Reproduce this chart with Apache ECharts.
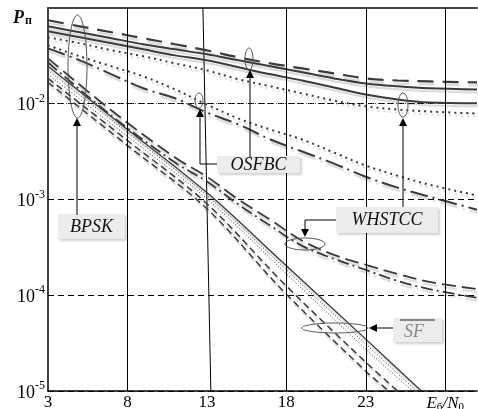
<!DOCTYPE html>
<html><head><meta charset="utf-8">
<script src="https://cdn.jsdelivr.net/npm/echarts@6/dist/echarts.min.js"></script>
<style>html,body{margin:0;padding:0;background:#fff}#c{width:478px;height:409px}</style>
</head><body><div id="c"></div>
<script>
// ---- data ----
const xTicks = [3, 8, 13, 18, 23];
const yTicks = [1e-5, 1e-4, 1e-3, 1e-2];
const gridX = [8, 18, 23, 28];
const refLevel = 1.38e-2;

const xA = [3, 5, 7, 9, 11, 13, 15, 17, 19, 21, 23, 25, 27, 30];
const osfbcDash  = [7.45e-2, 6.44e-2, 5.58e-2, 4.83e-2, 4.18e-2, 3.61e-2, 3.05e-2, 2.64e-2, 2.34e-2, 2.08e-2, 1.84e-2, 1.75e-2, 1.71e-2, 1.67e-2];
const osfbcSolid1 = [6.44e-2, 5.58e-2, 4.83e-2, 4.18e-2, 3.70e-2, 3.28e-2, 2.84e-2, 2.46e-2, 2.13e-2, 1.84e-2, 1.63e-2, 1.52e-2, 1.45e-2, 1.41e-2];
const osfbcSolid2 = [5.71e-2, 4.94e-2, 4.28e-2, 3.70e-2, 3.20e-2, 2.84e-2, 2.40e-2, 2.03e-2, 1.75e-2, 1.48e-2, 1.25e-2, 1.11e-2, 1.03e-2, 1.01e-2];
const osfbcDot1 = [4.94e-2, 4.28e-2, 3.61e-2, 3.13e-2, 2.64e-2, 2.23e-2, 1.80e-2, 1.52e-2, 1.28e-2, 1.08e-2, 9.4e-3, 8.7e-3, 8.3e-3, 7.9e-3];
const osfbcDot2 = [4.08e-2, 3.13e-2, 2.46e-2, 1.93e-2, 1.41e-2, 9.8e-3, 7.0e-3, 5.38e-3, 4.23e-3, 3.09e-3, 2.26e-3, 1.77e-3, 1.43e-3, 1.10e-3];
const osfbcDashDot = [3.79e-2, 2.84e-2, 2.03e-2, 1.45e-2, 1.14e-2, 8.1e-3, 6.07e-3, 4.23e-3, 3.17e-3, 2.37e-3, 1.73e-3, 1.33e-3, 1.07e-3, 7.82e-4];

const xW = [3, 7, 11, 13, 15, 17, 19, 21, 23, 25, 27, 30];
const whstccDash = [2.98e-2, 8.5e-3, 2.74e-3, 1.73e-3, 9.95e-4, 6.14e-4, 3.71e-4, 2.64e-4, 2.08e-4, 1.67e-4, 1.38e-4, 1.16e-4];
const whstccDashDot = [2.70e-2, 7.5e-3, 2.43e-3, 1.54e-3, 8.83e-4, 5.32e-4, 3.28e-4, 2.40e-4, 1.84e-4, 1.41e-4, 1.16e-4, 9.4e-5];

const xSF0 = [3, 8, 13, 17.8, 23, 26.5];
const sfSolid = [2.46e-2, 5.38e-3, 1.18e-3, 2.18e-4, 3.48e-5, 1e-5];
const xSF1 = [3, 8, 13, 17.8, 23, 26.2];
const sfDot1 = [2.23e-2, 5.0e-3, 1.10e-3, 1.98e-4, 3.09e-5, 1e-5];
const xSF2 = [3, 8, 13, 17.8, 23, 25.95];
const sfDot2 = [2.03e-2, 4.55e-3, 1.02e-3, 1.80e-4, 2.74e-5, 1e-5];
const xSF3 = [3, 8, 13, 17.8, 23, 25.0];
const sfDash1 = [1.84e-2, 4.13e-3, 9.04e-4, 1.35e-4, 2.0e-5, 1e-5];
const xSF4 = [3, 8, 13, 17.8, 23, 24.45];
const sfDash2 = [1.67e-2, 3.66e-3, 8.0e-4, 1.11e-4, 1.61e-5, 1e-5];

const slantX = [12.75, 13.25];
const slantY = [1e-1, 1e-5];

// ---- chart ----
const serif = 'Liberation Serif';
const ink = '#3a3a3a';
const pair = (xs, ys) => xs.map((x, i) => [x, ys[i]]);

function curve(name, xs, ys, type, width, smooth) {
  return {
    name, type: 'line', data: pair(xs, ys), showSymbol: false, symbol: 'none',
    smooth: smooth ? 0.35 : false, silent: true, z: 3,
    lineStyle: { color: ink, width, type, cap: 'butt',
      shadowColor: 'rgba(0,0,0,0.16)', shadowBlur: 1, shadowOffsetX: 1, shadowOffsetY: 3 }
  };
}

const series = [
  {
    name: 'slant13', type: 'line', data: pair(slantX, slantY), showSymbol: false, symbol: 'none', silent: true, z: 2,
    lineStyle: { color: '#000', width: 1 },
    markLine: {
      silent: true, symbol: ['none', 'none'], label: { show: false },
      data: gridX.map(v => ({ xAxis: v, lineStyle: { color: '#000', width: 1, type: 'solid' } }))
        .concat([{ yAxis: refLevel, lineStyle: { color: '#444', width: 1, type: [1, 2] } }])
    }
  },
  curve('osfbcDash', xA, osfbcDash, [16, 9], 2.2, true),
  curve('osfbcSolid1', xA, osfbcSolid1, 'solid', 2, true),
  curve('osfbcSolid2', xA, osfbcSolid2, 'solid', 2, true),
  curve('osfbcDot1', xA, osfbcDot1, [2, 4], 2, true),
  curve('osfbcDot2', xA, osfbcDot2, [2, 4], 2, true),
  curve('osfbcDashDot', xA, osfbcDashDot, [18, 5, 2, 5], 2, true),
  curve('whstccDash', xW, whstccDash, [14, 6], 1.8, true),
  curve('whstccDashDot', xW, whstccDashDot, [12, 4, 2, 4], 1.8, true),
  curve('sfSolid', xSF0, sfSolid, 'solid', 1.3, true),
  curve('sfDot1', xSF1, sfDot1, [1, 2], 1, true),
  curve('sfDot2', xSF2, sfDot2, [1, 2], 1, true),
  curve('sfDash1', xSF3, sfDash1, [7, 4], 1.5, true),
  curve('sfDash2', xSF4, sfDash2, [7, 4], 1.5, true)
];

function arrowUp(x, tip) { return { type: 'polygon', z: 100, shape: { points: [[x, tip], [x - 4, tip + 8], [x + 4, tip + 8]] }, style: { fill: '#000' } }; }
function arrowDown(x, tip) { return { type: 'polygon', z: 100, shape: { points: [[x, tip], [x - 4, tip - 8], [x + 4, tip - 8]] }, style: { fill: '#000' } }; }
function arrowLeft(x, y) { return { type: 'polygon', z: 100, shape: { points: [[x, y], [x + 8, y - 4], [x + 8, y + 4]] }, style: { fill: '#000' } }; }
function line(points, color) { return { type: 'polyline', z: 100, shape: { points }, style: { stroke: color || '#000', lineWidth: 1, fill: null } }; }
function ell(cx, cy, rx, ry) { return { type: 'ellipse', z: 100, shape: { cx, cy, rx, ry }, style: { stroke: '#555', lineWidth: 1, fill: null } }; }
function box(x, y, w, h) { return { type: 'rect', z: 99, shape: { x, y, width: w, height: h }, style: { fill: '#ececec', shadowColor: 'rgba(0,0,0,0.18)', shadowBlur: 2, shadowOffsetX: 2, shadowOffsetY: 2 } }; }
function txt(text, x, y, color) { return { type: 'text', z: 101, style: { text, x, y, fontFamily: serif, fontSize: 18, fontStyle: 'italic', fill: color || '#111', align: 'center', verticalAlign: 'middle' } }; }

const graphic = [
  // BPSK
  ell(77.5, 66.5, 9.5, 51.5), line([[77, 215], [77, 124]]), arrowUp(77, 118),
  box(58, 214, 67, 25), txt('BPSK', 91.5, 227),
  // OSFBC
  ell(199, 100.5, 4, 7.5), line([[217, 164], [200, 164], [200, 115]]), arrowUp(200, 109),
  ell(249, 59, 4, 11), line([[250, 157], [250, 77]]), arrowUp(250, 70),
  ell(403, 105, 5, 12), line([[403, 207], [403, 125]]), arrowUp(403, 118),
  box(217, 156, 83, 17), txt('OSFBC', 258.5, 165),
  // WHSTCC
  ell(305, 244, 20, 6), line([[336, 220], [305, 220], [305, 230]]), arrowDown(305, 237),
  box(336, 207, 102, 26), txt('WHSTCC', 387, 220),
  // SF
  ell(335, 328, 33, 5), line([[393, 328], [376, 328]]), arrowLeft(369, 328),
  box(393, 318, 49, 24), txt('SF', 414, 332, '#888'), line([[400, 320], [435, 320]], '#222'),
  // P label
  { type: 'text', z: 101, style: { text: '{p|P}{s|п}', x: 13, y: 18, verticalAlign: 'middle',
      rich: { p: { fontFamily: serif, fontStyle: 'italic', fontWeight: 'bold', fontSize: 18, fill: '#111' },
              s: { fontFamily: serif, fontWeight: 'bold', fontSize: 12, fill: '#111', padding: [6, 0, 0, 1] } } } }
];

const chart = echarts.init(document.getElementById('c'), null, { renderer: 'canvas' });
chart.setOption({
  animation: false,
  backgroundColor: '#fff',
  grid: { left: 48, right: 1, top: 8, bottom: 18, containLabel: false, outerBoundsMode: 'none' },
  xAxis: [{
    type: 'value', min: 3, max: 30, interval: 5,
    axisLine: { show: true, lineStyle: { color: '#000', width: 1.5 } },
    axisTick: { show: false }, splitLine: { show: false },
    axisLabel: {
      margin: 3, color: '#000', fontFamily: serif, fontSize: 17,
      formatter: v => v === 28 ? '{i|E}{sub|б}{n|/}{i|N}{sub|0}' : (xTicks.indexOf(v) >= 0 ? String(v) : ''),
      rich: {
        i: { fontFamily: serif, fontStyle: 'italic', fontSize: 17, color: '#000' },
        n: { fontFamily: serif, fontStyle: 'italic', fontSize: 17, color: '#000' },
        sub: { fontFamily: serif, fontSize: 11, color: '#000', padding: [8, 0, 0, 0] }
      }
    }
  }, {
    type: 'value', min: 3, max: 30, position: 'top',
    axisLine: { show: true, lineStyle: { color: '#444', width: 2 } },
    axisTick: { show: false }, axisLabel: { show: false }, splitLine: { show: false }
  }],
  yAxis: {
    type: 'log', logBase: 10, min: 1e-5, max: 1e-1,
    axisLine: { show: true, lineStyle: { color: '#000', width: 1.5 } },
    axisTick: { show: false },
    splitLine: { show: true, lineStyle: { color: '#000', width: 1, type: [6, 4] } },
    axisLabel: {
      margin: 3, color: '#000',
      formatter: v => {
        const hit = yTicks.find(t => Math.abs(Math.log10(t) - Math.log10(v)) < 1e-6);
        if (!hit) return '';
        return '{b|10}{s|' + Math.round(Math.log10(hit)) + '}';
      },
      rich: {
        b: { fontFamily: serif, fontSize: 18, color: '#000', padding: [4, 0, 0, 0] },
        s: { fontFamily: serif, fontSize: 12, color: '#000', padding: [0, 0, 10, 0] }
      }
    }
  },
  series,
  graphic
});
</script></body></html>
